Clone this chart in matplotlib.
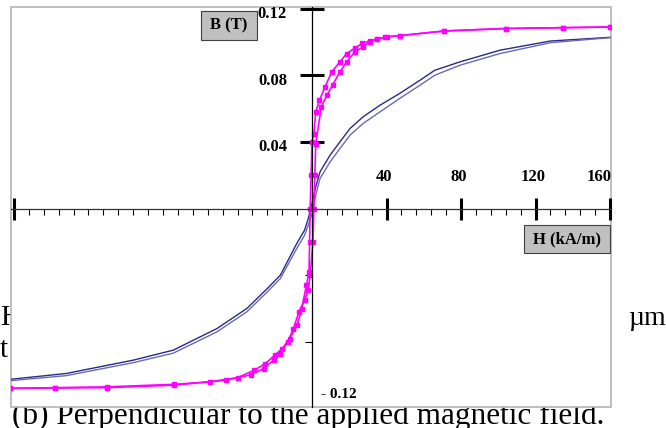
import matplotlib.pyplot as plt
from matplotlib.patches import Rectangle

# magenta loop (parallel to field), descending branch +160 -> -160
mag_down_h = [160, 135, 104, 71, 47, 39, 35, 31, 27, 23, 18.6, 15, 10.6, 7, 4, 2, 1, 0,
              -0.5, -1, -1.3, -1.6, -3, -5.5, -8, -12, -16, -20, -25, -31, -40, -55,
              -74, -110, -138, -162]
mag_down_b = [0.1089, 0.1085, 0.108, 0.1065, 0.1037, 0.1029, 0.1017, 0.1007, 0.099,
              0.0963, 0.093, 0.088, 0.082, 0.073, 0.065, 0.058, 0.045, 0.040, 0.020,
              0.0, -0.020, -0.038, -0.046, -0.060, -0.070, -0.078, -0.084, -0.088,
              -0.093, -0.097, -0.1015, -0.104, -0.1055, -0.107, -0.1075, -0.1079]
# ascending branch -160 -> +160
mag_up_h = [-162, -138, -110, -74, -46, -33, -26, -20.6, -17, -13, -10, -7, -4, -2, -1,
            0.5, 1, 1.5, 2, 5, 8, 11, 15, 18.6, 23, 27.4, 31, 35, 40, 47, 71, 104, 135, 160]
mag_up_b = [-0.1079, -0.1077, -0.1075, -0.106, -0.103, -0.0998, -0.096, -0.091, -0.087,
            -0.080, -0.072, -0.062, -0.055, -0.049, -0.040, -0.020, 0.0, 0.020, 0.039,
            0.061, 0.068, 0.074, 0.082, 0.088, 0.094, 0.097, 0.100, 0.1015, 0.103,
            0.1037, 0.1065, 0.108, 0.1085, 0.1089]

# blue loop (perpendicular to field)
blue_down_h = [160, 128, 101, 79.5, 66, 58, 47, 36.5, 27.4, 20.4, 15, 9.7, 4.3, 2, 0,
               -2, -4, -8.2, -17, -24, -35, -51, -74.5, -96, -132, -162]
blue_down_b = [0.1027, 0.1005, 0.095, 0.088, 0.083, 0.077, 0.069, 0.062, 0.055, 0.048,
               0.040, 0.032, 0.022, 0.013, 0.003, -0.006, -0.013, -0.021, -0.040, -0.048,
               -0.060, -0.072, -0.085, -0.091, -0.099, -0.1025]
blue_up_h = [-162, -132, -96, -74.5, -51, -35, -24, -17, -8.2, -4, -2, 0, 2, 4.3, 9.7,
             15, 20.4, 27.4, 36.5, 47, 58, 66, 79.5, 101, 128, 160]
blue_up_b = [-0.1033, -0.1003, -0.0925, -0.0868, -0.074, -0.062, -0.050, -0.042, -0.024,
             -0.016, -0.010, -0.003, 0.008, 0.018, 0.028, 0.036, 0.044, 0.051, 0.058,
             0.066, 0.074, 0.080, 0.086, 0.093, 0.0995, 0.1025]

x_major = [-160, 40, 80, 120, 160]
x_labels = ['40', '80', '120', '160']
y_major = [0.04, 0.08, 0.12]
y_labels = ['0.04', '0.08', '0.12']
y_minor = [-0.04, -0.08]

W, H = 666, 428
serif = 'Liberation Serif'

fig = plt.figure(figsize=(W / 100, H / 100), dpi=100)

# page text behind the chart
fig.text(0 / W, 1 - 325 / H, 'H', fontsize=21, family=serif, va='baseline', zorder=-1)
fig.text(0 / W, 1 - 357 / H, 't', fontsize=21, family=serif, va='baseline', zorder=-1)
fig.text(628 / W, 1 - 325 / H, 'µm', fontsize=20, family=serif, va='baseline', zorder=-1)
fig.text(12 / W, 1 - 424 / H, '(b) Perpendicular to the applied magnetic field.',
         fontsize=22.5, family=serif, va='baseline', zorder=-1)

ax = fig.add_axes([11 / W, 21 / H, 600 / W, 400 / H])
ax.set_facecolor('white')
ax.set_xlim(-161.6, 160.5)
ax.set_ylim(-0.1191, 0.1209)

ax.plot(blue_down_h, blue_down_b, color='#2a2a88', lw=1.0)
ax.plot(blue_up_h, blue_up_b, color='#6a6ab4', lw=1.0)
ax.plot(mag_down_h, mag_down_b, color='#ff00ff', lw=1.2, marker='s', ms=3, mec='#ff00ff')
ax.plot(mag_up_h, mag_up_b, color='#ff00ff', lw=1.2, marker='s', ms=3, mec='#ff00ff')

for s in ['top', 'right']:
    ax.spines[s].set_visible(False)
ax.spines['left'].set_position(('data', 0))
ax.spines['bottom'].set_position(('data', 0))
ax.spines['left'].set_linewidth(0.9)
ax.spines['bottom'].set_linewidth(0.9)
ax.spines['bottom'].set_color('#333333')

ax.set_xticks(x_major)
ax.set_xticks([h for h in range(-152, 160, 8) if h not in x_major and h != 0], minor=True)
ax.set_yticks(y_major)
ax.set_yticks(y_minor, minor=True)
ax.tick_params(axis='x', which='major', direction='inout', length=16, width=2.2,
               labelbottom=False)
ax.tick_params(axis='x', which='minor', direction='out', length=4.5, width=0.8)
ax.tick_params(axis='y', which='major', direction='inout', length=17, width=2.2,
               labelleft=False)
ax.tick_params(axis='y', which='minor', direction='out', length=5, width=0.8)

for h, lbl in zip(x_major[1:], x_labels):
    dx = -8 if lbl == x_labels[-1] else -2
    ax.annotate(lbl, (h, 0), xytext=(dx, 23), textcoords='offset points',
                ha='center', va='center', fontsize=12, fontweight='bold', family=serif)
for b, lbl in zip(y_major, y_labels):
    ax.annotate(lbl, (0, b), xytext=(-18, -4), textcoords='offset points',
                ha='right', va='center', fontsize=12, fontweight='bold', family=serif)
fig.text(339 / W, 1 - 394 / H, '- 0.12', ha='center', va='center', fontsize=11,
         fontweight='bold', family=serif)

# grey frame round the plot area
ax.add_patch(Rectangle((0, 0), 1, 1, transform=ax.transAxes, fill=False,
                       edgecolor='#b4b4b4', lw=1.2, clip_on=False))

# axis name boxes
fig.add_artist(Rectangle((201 / W, 1 - 40 / H), 56 / W, 29 / H, facecolor='#c0c0c0',
                         edgecolor='#404040', lw=0.8))
fig.text(229 / W, 1 - 25.5 / H, 'B (T)', ha='center', va='center', fontsize=12,
         fontweight='bold', family=serif)
fig.add_artist(Rectangle((524 / W, 1 - 253 / H), 86 / W, 28 / H, facecolor='#c0c0c0',
                         edgecolor='#404040', lw=0.8))
fig.text(567 / W, 1 - 239 / H, 'H (kA/m)', ha='center', va='center', fontsize=12,
         fontweight='bold', family=serif)

fig.savefig('out.png', dpi=100)
